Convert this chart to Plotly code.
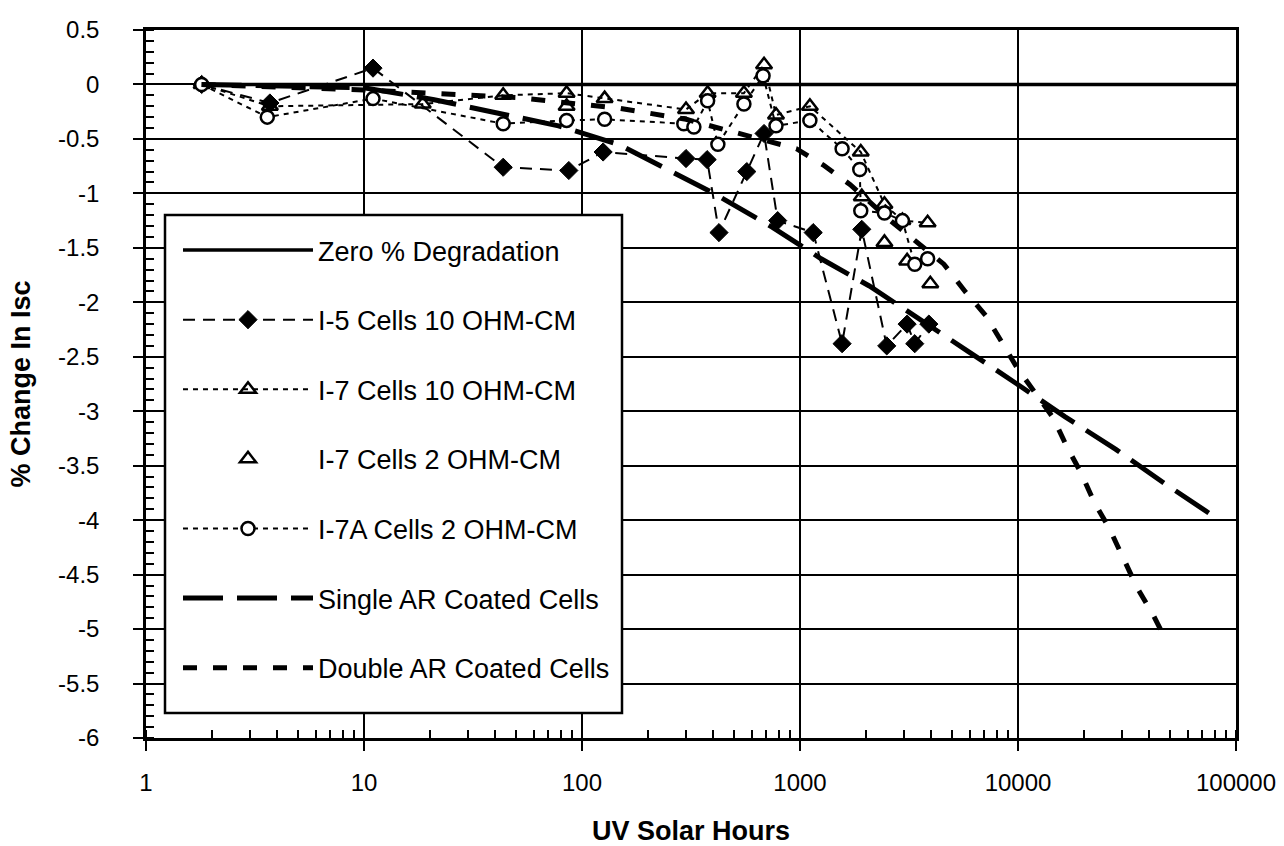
import plotly.graph_objects as go

# ---------------- data ----------------
zero_x = [1.8, 100000]
zero_y = [0, 0]

i5_x = [1.8, 3.7, 11, 43.5, 87, 125, 300, 375, 425, 570, 684, 790, 1150, 1560, 1920, 2500, 3100, 3360, 3900]
i5_y = [0, -0.17, 0.15, -0.76, -0.79, -0.62, -0.68, -0.69, -1.36, -0.8, -0.45, -1.25, -1.36, -2.38, -1.33, -2.4, -2.2, -2.38, -2.2]

i7_10_x = [1.8, 3.7, 18.6, 43.5, 85, 127, 300, 377, 553, 684, 776, 1110, 1900, 2440, 2950, 3850]
i7_10_y = [0, -0.2, -0.18, -0.1, -0.08, -0.13, -0.23, -0.08, -0.08, 0.18, -0.28, -0.2, -0.62, -1.1, -1.25, -1.27]

i7_2_x = [85, 1920, 2440, 3100, 3960]
i7_2_y = [-0.2, -1.03, -1.45, -1.62, -1.83]

i7a_x = [1.8, 3.6, 11, 43.5, 85, 127, 293, 326, 377, 420, 553, 677, 776, 1110, 1560, 1880, 1900, 2440, 2950, 3360, 3850]
i7a_y = [0, -0.3, -0.13, -0.36, -0.33, -0.32, -0.36, -0.39, -0.15, -0.55, -0.18, 0.08, -0.38, -0.33, -0.59, -0.78, -1.16, -1.18, -1.25, -1.65, -1.6]

single_x = [1.8, 10, 21, 78, 147, 247, 403, 745, 1250, 2080, 3470, 5900, 9900, 16400, 28100, 46800, 84000]
single_y = [0, -0.03, -0.14, -0.38, -0.55, -0.78, -1.0, -1.31, -1.6, -1.85, -2.15, -2.45, -2.75, -3.05, -3.35, -3.66, -4.0]

double_x = [1.8, 10, 50, 150, 300, 490, 963, 1280, 1700, 2600, 4570, 5720, 7100, 8340, 9890,
            14500, 16700, 19500, 22300, 26300, 30600, 35200, 41700, 47700]
double_y = [0, -0.05, -0.12, -0.22, -0.32, -0.43, -0.59, -0.74, -0.92, -1.25, -1.65, -1.9, -2.12, -2.35, -2.6,
            -3.06, -3.32, -3.57, -3.83, -4.08, -4.35, -4.62, -4.87, -5.1]

x_tick_vals = [1, 10, 100, 1000, 10000, 100000]
x_tick_text = ["1", "10", "100", "1000", "10000", "100000"]
y_tick_vals = [0.5, 0, -0.5, -1, -1.5, -2, -2.5, -3, -3.5, -4, -4.5, -5, -5.5, -6]
y_tick_text = ["0.5", "0", "-0.5", "-1", "-1.5", "-2", "-2.5", "-3", "-3.5", "-4", "-4.5", "-5", "-5.5", "-6"]

FONT = "Liberation Sans, Arial, Helvetica, sans-serif"

# plot-area geometry (pixels) used to place the legend frame
W, H = 1284, 846
ML, MR, MT, MB = 146, 48, 30, 108
PW, PH = W - ML - MR, H - MT - MB


def px_to_paper_x(px):
    return (px - ML) / PW


def px_to_paper_y(py):
    return (H - MB - py) / PH


fig = go.Figure()

fig.add_trace(go.Scatter(
    x=zero_x, y=zero_y, mode="lines", name="Zero % Degradation", legendgroup="a",
    line=dict(color="black", width=3.5)))

fig.add_trace(go.Scatter(
    x=i5_x, y=i5_y, mode="lines+markers", name="I-5 Cells 10 OHM-CM", legendgroup="b",
    line=dict(color="black", width=2, dash="12px,8px"),
    marker=dict(symbol="diamond", size=14, color="black", line=dict(color="black", width=1))))

fig.add_trace(go.Scatter(
    x=i7_10_x, y=i7_10_y, mode="lines+markers", name="I-7 Cells 10 OHM-CM", legendgroup="c",
    line=dict(color="black", width=2, dash="5px,5px"),
    marker=dict(symbol="triangle-up-open", size=14, color="black", line=dict(color="black", width=2.5))))

fig.add_trace(go.Scatter(
    x=i7_2_x, y=i7_2_y, mode="markers", name="I-7 Cells 2 OHM-CM", legendgroup="d",
    marker=dict(symbol="triangle-up-open", size=14, color="black", line=dict(color="black", width=2.5))))

fig.add_trace(go.Scatter(
    x=i7a_x, y=i7a_y, mode="lines+markers", name="I-7A Cells 2 OHM-CM", legendgroup="e",
    line=dict(color="black", width=2, dash="5px,5px"),
    marker=dict(symbol="circle", size=13, color="white", line=dict(color="black", width=2.5))))

fig.add_trace(go.Scatter(
    x=single_x, y=single_y, mode="lines", name="Single AR Coated Cells", legendgroup="f",
    line=dict(color="black", width=5, dash="40px,14px")))

fig.add_trace(go.Scatter(
    x=double_x, y=double_y, mode="lines", name="Double AR Coated Cells", legendgroup="g",
    line=dict(color="black", width=5, dash="14px,16px")))

# opaque legend frame (the legend itself is drawn without border on top of it)
fig.add_shape(
    type="rect", xref="paper", yref="paper", layer="above",
    x0=px_to_paper_x(165), x1=px_to_paper_x(622),
    y0=px_to_paper_y(713), y1=px_to_paper_y(215),
    fillcolor="white", line=dict(color="black", width=2.5))

fig.update_layout(
    width=W, height=H,
    paper_bgcolor="white", plot_bgcolor="white",
    margin=dict(l=ML, r=MR, t=MT, b=MB),
    font=dict(family=FONT, color="black", size=24),
    showlegend=True,
    legend=dict(
        x=px_to_paper_x(178), y=px_to_paper_y(226), xanchor="left", yanchor="top",
        bgcolor="rgba(0,0,0,0)", borderwidth=0,
        font=dict(family=FONT, size=27, color="black"),
        itemwidth=130, tracegroupgap=31.5, traceorder="grouped",
    ),
    xaxis=dict(
        type="log", range=[0, 5], automargin=False,
        tickvals=x_tick_vals, ticktext=x_tick_text,
        ticks="outside", ticklen=10, tickwidth=2, tickcolor="black",
        ticklabelstandoff=11,
        minor=dict(ticks="inside", ticklen=8, tickwidth=1.5, tickcolor="black", dtick="D1", showgrid=False),
        showgrid=True, gridcolor="black", gridwidth=1.5,
        showline=True, linecolor="black", linewidth=2.5, mirror=True,
        zeroline=False,
        tickfont=dict(size=24, family=FONT),
        title=dict(text="<b>UV Solar Hours</b>", font=dict(size=27, family=FONT), standoff=30),
    ),
    yaxis=dict(
        range=[-6, 0.5], automargin=False,
        tickvals=y_tick_vals, ticktext=y_tick_text,
        ticks="outside", ticklen=10, tickwidth=2, tickcolor="black",
        ticklabelstandoff=29,
        minor=dict(ticks="inside", ticklen=8, tickwidth=1.5, tickcolor="black", dtick=0.1, showgrid=False),
        showgrid=True, gridcolor="black", gridwidth=1.5,
        showline=True, linecolor="black", linewidth=2.5, mirror=True,
        zeroline=False,
        tickfont=dict(size=24, family=FONT),
        title=dict(text="<b>% Change In Isc</b>", font=dict(size=27, family=FONT), standoff=20),
    ),
)

# remove the browser's default 8px page margin so the figure sits at (0, 0)
fig.write_html(
    "out.html",
    config={"displayModeBar": False},
    post_script="document.body.style.margin='0';",
)
